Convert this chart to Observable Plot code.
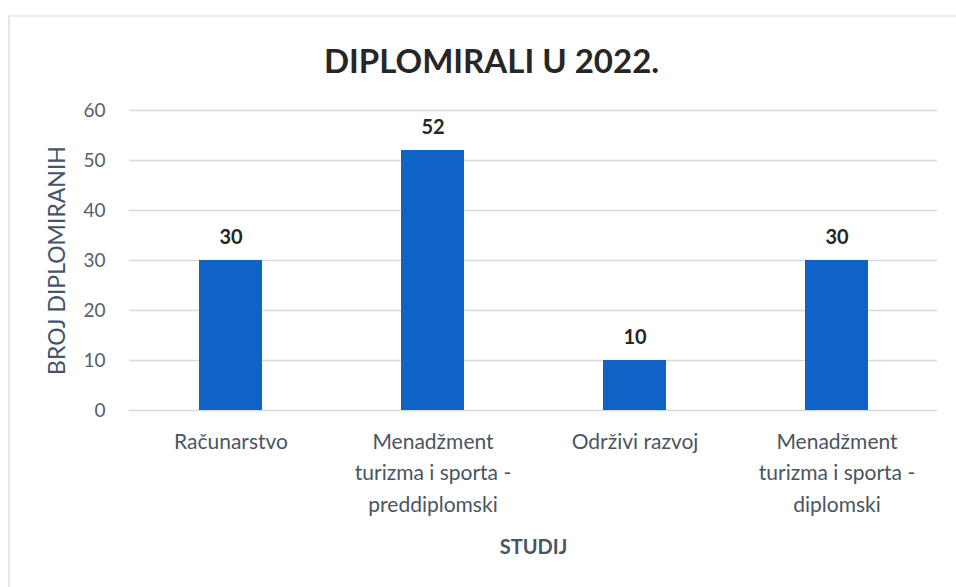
<!DOCTYPE html>
<html>
<head>
<meta charset="utf-8">
<script src="https://cdn.jsdelivr.net/npm/d3@7"></script>
<script src="https://cdn.jsdelivr.net/npm/@observablehq/plot@0.6"></script>
<style>
  html, body { margin: 0; padding: 0; background: #fff; }
  #frame { position: absolute; left: 8px; top: 15px; width: 960px; height: 580px; border-left: 2px solid #e6e6e6; border-top: 2px solid #ececec; }
  #chart { position: absolute; left: 0; top: 0; }
</style>
</head>
<body>
<div id="frame"></div>
<div id="chart"></div>
<script>
const title = "DIPLOMIRALI U 2022.";
const yLabel = "BROJ DIPLOMIRANIH";
const xLabel = "STUDIJ";
const categories = [
  "Računarstvo",
  "Menadžment\nturizma i sporta -\npreddiplomski",
  "Održivi razvoj",
  "Menadžment\nturizma i sporta -\ndiplomski"
];
const values = [30, 52, 10, 30];
const yTicks = [0, 10, 20, 30, 40, 50, 60];

const data = categories.map((c, i) => ({cat: c, value: values[i]}));
const font = "Lato, 'Open Sans', sans-serif";

const chart = Plot.plot({
  width: 956,
  height: 587,
  marginTop: 110,
  marginBottom: 177,
  marginLeft: 129,
  marginRight: 19,
  style: {fontFamily: font, background: "transparent"},
  x: {domain: categories, paddingInner: 0.69, paddingOuter: 0.345, axis: null},
  y: {domain: [0, 60], ticks: yTicks, axis: null},
  marks: [
    Plot.gridY(yTicks, {stroke: "#d9d9d9", strokeOpacity: 1, strokeWidth: 1.5}),
    Plot.barY(data, {x: "cat", y: "value", fill: "#0f62c6"}),
    Plot.text(data, {x: "cat", y: "value", text: d => String(d.value), dy: -23, fontWeight: "bold", fontSize: 20, fill: "#262626"}),
    Plot.axisY(yTicks, {tickSize: 0, tickPadding: 24, fontSize: 19, color: "#55606b", label: null}),
    Plot.text(data, {x: "cat", frameAnchor: "bottom", text: "cat", lineAnchor: "top", dy: 16, lineHeight: 1.5, fontSize: 21, fill: "#4a5561"}),
    Plot.text([xLabel], {frameAnchor: "bottom", lineAnchor: "middle", dy: 137, fontWeight: "bold", fontSize: 20, fill: "#4a5561"}),
    Plot.text([yLabel], {frameAnchor: "left", textAnchor: "middle", lineAnchor: "middle", dx: -72, rotate: -90, fontSize: 23, fill: "#44546a"}),
    Plot.text([title], {frameAnchor: "top", lineAnchor: "middle", dy: -48, dx: -42, fontWeight: "bold", fontSize: 33, fill: "#262626"})
  ]
});
document.getElementById("chart").append(chart);
</script>
</body>
</html>
